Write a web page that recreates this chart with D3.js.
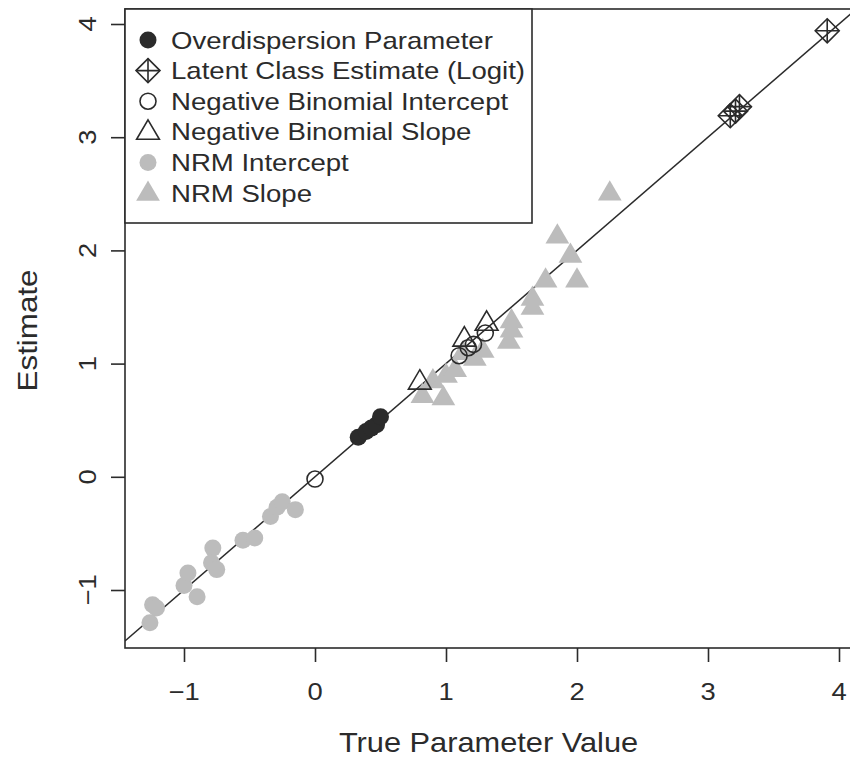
<!DOCTYPE html>
<html>
<head>
<meta charset="utf-8">
<script src="https://cdn.jsdelivr.net/npm/d3@7"></script>
<style>
  body { margin: 0; background: #fff; }
  svg { display: block; font-family: "Liberation Sans", Arial, sans-serif; }
</style>
</head>
<body>
<div id="chart"></div>
<script>
// values (true value, estimate)
var overdispTrue = [0.33, 0.39, 0.43, 0.47, 0.50];
var overdispEst  = [0.35, 0.40, 0.43, 0.46, 0.53];
var latentTrue = [3.17, 3.21, 3.24, 3.91];
var latentEst  = [3.19, 3.23, 3.27, 3.94];
var nbIntTrue = [0.00, 1.10, 1.17, 1.21, 1.30];
var nbIntEst  = [-0.02, 1.07, 1.14, 1.17, 1.27];
var nbSlopeTrue = [0.80, 1.14, 1.31];
var nbSlopeEst  = [0.84, 1.22, 1.36];
var nrmIntTrue = [-1.26, -1.24, -1.21, -1.00, -0.97, -0.90, -0.78, -0.79, -0.75, -0.55, -0.46, -0.34, -0.29, -0.25, -0.15];
var nrmIntEst  = [-1.29, -1.13, -1.16, -0.96, -0.85, -1.06, -0.63, -0.76, -0.82, -0.56, -0.54, -0.35, -0.27, -0.22, -0.29];
var nrmSlopeTrue = [0.82, 0.98, 0.90, 1.00, 1.07, 1.13, 1.22, 1.28, 1.48, 1.50, 1.50, 1.66, 1.66, 1.76, 1.85, 1.95, 2.00, 2.25];
var nrmSlopeEst  = [0.72, 0.70, 0.85, 0.90, 0.95, 1.10, 1.05, 1.12, 1.20, 1.30, 1.38, 1.50, 1.58, 1.74, 2.13, 1.96, 1.74, 2.51];
var tickVals = [-1, 0, 1, 2, 3, 4];
var legendLabels = ["Overdispersion Parameter", "Latent Class Estimate (Logit)", "Negative Binomial Intercept",
  "Negative Binomial Slope", "NRM Intercept", "NRM Slope"];

var W = 850, H = 759;
var box = {left: 125, top: 9, right: 853, bottom: 648};
var ink = "#2b2b2b", grey = "#bcbcbc";
// the original face is wider than Liberation Sans, stretch text along its run
var stretch = 1.14;

var x = d3.scaleLinear().domain([-1, 4]).range([184, 839]);
var y = d3.scaleLinear().domain([-1, 4]).range([590, 24]);

var svg = d3.select("#chart").append("svg").attr("width", W).attr("height", H);

svg.append("clipPath").attr("id", "clip").append("rect")
  .attr("x", box.left).attr("y", box.top)
  .attr("width", box.right - box.left).attr("height", box.bottom - box.top);

var plot = svg.append("g").attr("clip-path", "url(#clip)");

// y = x reference line
var lo = x.invert(box.left), hi = x.invert(box.right);
plot.append("line")
  .attr("x1", x(lo)).attr("y1", y(lo)).attr("x2", x(hi)).attr("y2", y(hi))
  .attr("stroke", ink).attr("stroke-width", 1.5);

// marker drawers
function tri(r) {
  return "M0," + (-r) + "L" + (r * 0.95) + "," + (r * 0.62) + "L" + (-r * 0.95) + "," + (r * 0.62) + "Z";
}
function drawMarker(g, type) {
  if (type === "dot") {
    g.append("circle").attr("r", 8.5).attr("fill", ink);
  } else if (type === "diamond") {
    var d = 12;
    g.append("path").attr("d", "M0," + (-d) + "L" + d + ",0L0," + d + "L" + (-d) + ",0Z")
      .attr("fill", "none").attr("stroke", ink).attr("stroke-width", 1.6);
    g.append("path").attr("d", "M0," + (-d) + "V" + d + "M" + (-d) + ",0H" + d)
      .attr("stroke", ink).attr("stroke-width", 1.6);
  } else if (type === "ring") {
    g.append("circle").attr("r", 8).attr("fill", "none").attr("stroke", ink).attr("stroke-width", 1.6);
  } else if (type === "tri") {
    g.append("path").attr("d", tri(12)).attr("fill", "none").attr("stroke", ink).attr("stroke-width", 1.6);
  } else if (type === "gdot") {
    g.append("circle").attr("r", 8.5).attr("fill", grey);
  } else if (type === "gtri") {
    g.append("path").attr("d", tri(12.5)).attr("fill", grey);
  }
}

function series(xs, ys, type) {
  xs.forEach(function(v, i) {
    var g = plot.append("g").attr("transform", "translate(" + x(v) + "," + y(ys[i]) + ")");
    drawMarker(g, type);
  });
}

series(nrmIntTrue, nrmIntEst, "gdot");
series(nrmSlopeTrue, nrmSlopeEst, "gtri");
series(overdispTrue, overdispEst, "dot");
series(latentTrue, latentEst, "diamond");
series(nbIntTrue, nbIntEst, "ring");
series(nbSlopeTrue, nbSlopeEst, "tri");

// plot box
svg.append("rect")
  .attr("x", box.left).attr("y", box.top)
  .attr("width", box.right - box.left).attr("height", box.bottom - box.top)
  .attr("fill", "none").attr("stroke", ink).attr("stroke-width", 1.6);

function fmt(v) { return v < 0 ? "\u2212" + Math.abs(v) : String(v); }

// axes, R style: ticks outward, labels drawn separately
var xAxis = svg.append("g").attr("transform", "translate(0," + box.bottom + ")")
  .call(d3.axisBottom(x).tickValues(tickVals).tickSize(14).tickFormat(""));
xAxis.select(".domain").remove();
xAxis.selectAll("line").attr("stroke", ink).attr("stroke-width", 1.6);
tickVals.forEach(function(v) {
  svg.append("text")
    .attr("transform", "translate(" + x(v) + ",700) scale(" + stretch + ",1)")
    .attr("text-anchor", "middle").attr("font-size", 24).attr("fill", ink)
    .text(fmt(v));
});

var yAxis = svg.append("g").attr("transform", "translate(" + box.left + ",0)")
  .call(d3.axisLeft(y).tickValues(tickVals).tickSize(14).tickFormat(""));
yAxis.select(".domain").remove();
yAxis.selectAll("line").attr("stroke", ink).attr("stroke-width", 1.6);
tickVals.forEach(function(v) {
  svg.append("text")
    .attr("transform", "translate(96," + y(v) + ") rotate(-90) scale(" + stretch + ",1)")
    .attr("text-anchor", "middle").attr("font-size", 24).attr("fill", ink)
    .text(fmt(v));
});

// axis titles
svg.append("text")
  .attr("transform", "translate(" + ((box.left + 852) / 2) + ",752) scale(" + stretch + ",1)")
  .attr("text-anchor", "middle").attr("font-size", 27).attr("fill", ink)
  .text("True Parameter Value");
svg.append("text")
  .attr("transform", "translate(37," + ((box.top + box.bottom) / 2 + 2) + ") rotate(-90) scale(" + stretch + ",1)")
  .attr("text-anchor", "middle").attr("font-size", 27.5).attr("fill", ink)
  .text("Estimate");

// legend
var types = ["dot", "diamond", "ring", "tri", "gdot", "gtri"];
var leg = svg.append("g");
leg.append("rect").attr("x", box.left).attr("y", box.top).attr("width", 407).attr("height", 214)
  .attr("fill", "#fff").attr("stroke", ink).attr("stroke-width", 1.6);
legendLabels.forEach(function(lab, i) {
  var cy = 40 + i * 30.6;
  var g = leg.append("g").attr("transform", "translate(148," + cy + ")");
  drawMarker(g, types[i]);
  leg.append("text")
    .attr("transform", "translate(171," + (cy + 8.5) + ") scale(" + stretch + ",1)")
    .attr("font-size", 24.2).attr("fill", ink).text(lab);
});
</script>
</body>
</html>
